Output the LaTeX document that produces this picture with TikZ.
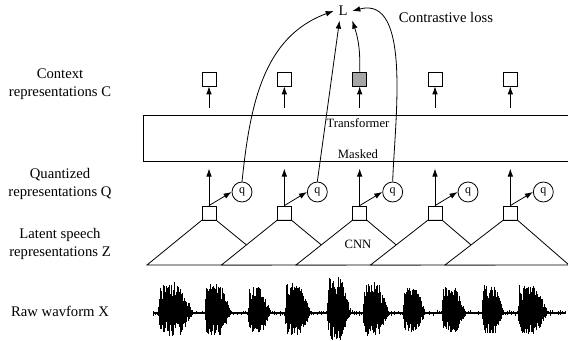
\documentclass[tikz,border=0pt]{standalone}
\usepackage{fontspec}
\setmainfont{Liberation Serif}
\usepackage{tikz}
\usetikzlibrary{positioning}
\usetikzlibrary{arrows.meta}
\definecolor{maskgray}{RGB}{166,166,166}

\begin{document}
\begin{tikzpicture}[x=0.75pt, y=0.75pt, line width=0.6pt]
    \tikzset{ rep/.style={draw=black, minimum size=10.5pt, inner sep=0pt} }
    \tikzset{ qnt/.style={draw=black, circle, minimum size=15pt, inner sep=0pt, font=\fontsize{9}{10}\selectfont} }
    \tikzset{ enc/.style={draw=black, fill=white} }
    \tikzset{ lbl/.style={align=center, font=\fontsize{11}{13.5}\selectfont} }
    \tikzset{ txt/.style={font=\fontsize{9.5}{11}\selectfont} }
    \tikzset{ wav/.style={line width=0.75pt} }
    \tikzset{ >={Latex[length=6pt, width=4.2pt]} }

    \useasboundingbox (0,0) rectangle (568,341);

    % left labels
    \node[lbl] (lc) at (60,257)   {Context\\representations C};
    \node[lbl] (lq) at (60,157.5) {Quantized\\representations Q};
    \node[lbl] (lz) at (60,97)    {Latent speech\\representations Z};
    \node[lbl] (lx) at (60,30)    {Raw wavform X};

    % loss
    \node[lbl] (L)  at (343,330) {L};
    \node[lbl] (cl) at (446,324) {Contrastive loss};

    % context representations
    \node[rep]                        (c1) at (209,262) {};
    \node[rep, right=45.4pt of c1]    (c2)              {};
    \node[rep, right=45.4pt of c2, fill=maskgray] (c3)  {};
    \node[rep, right=45.4pt of c3]    (c4)              {};
    \node[rep, right=45.4pt of c4]    (c5)              {};

    % transformer
    \node[draw=black, minimum width=321pt, minimum height=34.5pt] (tr) at (357,203) {};
    \node[txt] (trl) at (358,218) {Transformer};
    \node[txt] (msk) at (358,187) {Masked};

    % latent speech representations
    \node[rep]                        (z1) at (209,128) {};
    \node[rep, right=45.4pt of z1]    (z2)              {};
    \node[rep, right=45.4pt of z2]    (z3)              {};
    \node[rep, right=45.4pt of z3]    (z4)              {};
    \node[rep, right=45.4pt of z4]    (z5)              {};

    % quantizers
    \node[qnt]                        (q1) at (242,149) {q};
    \node[qnt, right=40.9pt of q1]    (q2)              {q};
    \node[qnt, right=40.9pt of q2]    (q3)              {q};
    \node[qnt, right=40.9pt of q3]    (q4)              {q};
    \node[qnt, right=40.9pt of q4]    (q5)              {q};

    % CNN encoders
    \coordinate (f1l) at (147,76);   \coordinate (f1r) at (271,76);
    \coordinate (f2l) at (221.5,76); \coordinate (f2r) at (345.5,76);
    \coordinate (f3l) at (296,76);   \coordinate (f3r) at (420,76);
    \coordinate (f4l) at (370.5,76); \coordinate (f4r) at (494.5,76);
    \coordinate (f5l) at (445,76);   \coordinate (f5r) at (569,76);
    \draw[enc] (z1.south west) -- (f1l) -- (f1r) -- (z1.south east) -- cycle;
    \draw[enc] (z2.south west) -- (f2l) -- (f2r) -- (z2.south east) -- cycle;
    \draw[enc] (z3.south west) -- (f3l) -- (f3r) -- (z3.south east) -- cycle;
    \draw[enc] (z4.south west) -- (f4l) -- (f4r) -- (z4.south east) -- cycle;
    \draw[enc] (z5.south west) -- (f5l) -- (f5r) -- (z5.south east) -- cycle;
    \node[txt] (cnn) at (358,97) {CNN};

    % arrows into context
    \coordinate[below=16.5pt of c1] (a1);
    \coordinate[below=16.5pt of c2] (a2);
    \coordinate[below=16.5pt of c3] (a3);
    \coordinate[below=16.5pt of c4] (a4);
    \coordinate[below=16.5pt of c5] (a5);
    \draw[->] (a1) -- (c1.south);
    \draw[->] (a2) -- (c2.south);
    \draw[->] (a3) -- (c3.south);
    \draw[->] (a4) -- (c4.south);
    \draw[->] (a5) -- (c5.south);

    % arrows into transformer and quantizers
    \coordinate[above=27.75pt of z1] (u1);
    \coordinate[above=27.75pt of z2] (u2);
    \coordinate[above=27.75pt of z3] (u3);
    \coordinate[above=27.75pt of z4] (u4);
    \coordinate[above=27.75pt of z5] (u5);
    \draw[->] (z1.north) -- (u1);
    \draw[->] (z2.north) -- (u2);
    \draw[->] (z3.north) -- (u3);
    \draw[->] (z4.north) -- (u4);
    \draw[->] (z5.north) -- (u5);
    \draw[->] (z1.north) -- (q1.west);
    \draw[->] (z2.north) -- (q2.west);
    \draw[->] (z3.north) -- (q3.west);
    \draw[->] (z4.north) -- (q4.west);
    \draw[->] (z5.north) -- (q5.west);

    % contrastive loss
    \draw[->] (q1.north) to[out=84, in=200] (L.west);
    \draw[->] (q2.north) -- (L.-110);
    \draw[->] (c3.north) to[bend right=10] (L.south east);
    \draw[->] (q3.north) to[out=88, in=15, looseness=0.9] (L.east);

    % raw waveform
    \pgfmathsetseed{11}
    \draw[line width=1.6pt] (153,28) -- (565,28);
    \foreach \k in {0,...,200}{
      \pgfmathsetmacro{\xx}{153+\k*2.06}
      \pgfmathsetmacro{\up}{2.8*rnd}
      \pgfmathsetmacro{\dn}{2.8*rnd}
      \draw[wav] (\xx,28+\up) -- (\xx,28-\dn);
    }
    \foreach \s/\e/\a in {158/192/31, 205/230/30, 248/270/26, 285/310/30, 327/350/36, 363/388/31, 403/425/25, 442/465/26, 482/503/28, 518/547/28}{
      \foreach \k in {0,...,60}{
        \pgfmathsetmacro{\xx}{\s+\k*(\e-\s)/60}
        \pgfmathsetmacro{\env}{\a*min(1,\k/4)*min(1,(64-\k)/26)}
        \pgfmathsetmacro{\up}{\env*(0.35+0.65*rnd)}
        \pgfmathsetmacro{\dn}{0.75*\env*(0.35+0.65*rnd)}
        \draw[wav] (\xx,28+\up) -- (\xx,28-\dn);
      }
    }
\end{tikzpicture}
\end{document}
